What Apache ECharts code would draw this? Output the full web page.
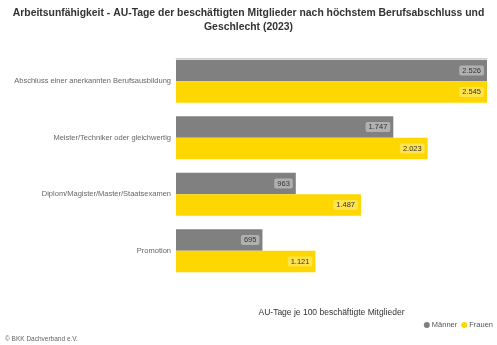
<!DOCTYPE html>
<html>
<head>
<meta charset="utf-8">
<script src="https://cdn.jsdelivr.net/npm/echarts@6/dist/echarts.min.js"></script>
<style>
  html, body { margin: 0; padding: 0; background: #fff; }
  #chart { width: 497px; height: 345px; }
</style>
</head>
<body>
<div id="chart"></div>
<script>
// Highest professional qualification (top to bottom)
const categories = [
  'Abschluss einer anerkannten Berufsausbildung',
  'Meister/Techniker oder gleichwertig',
  'Diplom/Magister/Master/Staatsexamen',
  'Promotion'
];
// AU days per 100 employed members, 2023
const maenner = [2526, 1747, 963, 695];
const frauen = [2545, 2023, 1487, 1121];

const GREY = '#808080';
const YELLOW = '#ffd700';
const FONT = '"Liberation Sans", Arial, sans-serif';

const fmt = v => v.toLocaleString('de-DE');

function valueLabel(bg) {
  return {
    show: true,
    position: 'insideRight',
    distance: 3,
    formatter: p => fmt(p.value),
    fontFamily: FONT,
    fontSize: 7.5,
    color: '#333',
    backgroundColor: bg,
    borderRadius: 2,
    padding: [1, 3, 1, 3]
  };
}

const chart = echarts.init(document.getElementById('chart'), null, { renderer: 'canvas' });
chart.setOption({
  animation: false,
  backgroundColor: '#fff',
  title: [
    {
      text: 'Arbeitsunfähigkeit - AU-Tage der beschäftigten Mitglieder nach höchstem Berufsabschluss und\nGeschlecht (2023)',
      left: 'center',
      top: 6,
      padding: 0,
      textStyle: { fontFamily: FONT, fontSize: 10.4, fontWeight: 'bold', color: '#333', lineHeight: 14, align: 'center' }
    },
    {
      text: '© BKK Dachverband e.V.',
      left: 5,
      top: 336,
      padding: 0,
      textStyle: { fontFamily: FONT, fontSize: 6.5, fontWeight: 'normal', color: '#666' }
    }
  ],
  legend: {
    right: 4,
    top: 321,
    padding: 0,
    icon: 'circle',
    itemWidth: 6,
    itemHeight: 6,
    itemGap: 4,
    textStyle: { fontFamily: FONT, fontSize: 7.5, color: '#555', padding: [0, 0, 0, -3] },
    data: ['Männer', 'Frauen']
  },
  grid: { left: 176, right: 10, top: 53, bottom: 66, containLabel: false },
  xAxis: [
    {
      type: 'value',
      min: 0,
      max: 2500,
      position: 'bottom',
      axisLine: { show: false },
      axisTick: { show: false },
      axisLabel: { show: false },
      splitLine: { show: false },
      name: 'AU-Tage je 100 beschäftigte Mitglieder',
      nameLocation: 'middle',
      nameGap: 29,
      nameTextStyle: { fontFamily: FONT, fontSize: 8.5, color: '#333' }
    },
    {
      type: 'value',
      min: 0,
      max: 2500,
      position: 'top',
      offset: -5,
      z: 5,
      axisLine: { show: true, onZero: false, lineStyle: { color: '#cccccc', width: 1 } },
      axisTick: { show: false },
      axisLabel: { show: false },
      splitLine: { show: false }
    }
  ],
  yAxis: {
    type: 'category',
    inverse: true,
    data: categories,
    axisLine: { show: false },
    axisTick: { show: false },
    axisLabel: { fontFamily: FONT, fontSize: 7.5, color: '#666', margin: 5 }
  },
  series: [
    {
      name: 'Männer',
      type: 'bar',
      data: maenner,
      itemStyle: { color: GREY },
      barGap: '0%',
      barCategoryGap: '24%',
      clip: true,
      label: valueLabel('rgba(255,255,255,0.38)')
    },
    {
      name: 'Frauen',
      type: 'bar',
      data: frauen,
      itemStyle: { color: YELLOW },
      barGap: '0%',
      barCategoryGap: '24%',
      clip: true,
      label: valueLabel('rgba(255,255,255,0.3)')
    }
  ]
});
</script>
</body>
</html>
